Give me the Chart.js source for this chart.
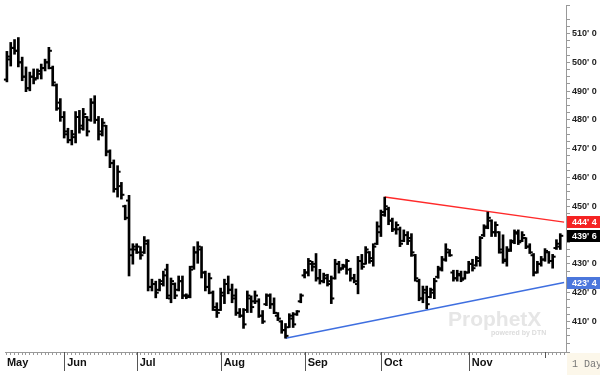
<html>
<head>
<script src="https://cdn.jsdelivr.net/npm/chart.js@4.4.0/dist/chart.umd.min.js"></script>
<style>body{margin:0;background:#fff}</style>
</head>
<body>
<canvas id="ohlcChart" width="600" height="375"></canvas>
<script>
// daily OHLC, cents/bu (May -> early Dec)
const opens = [
  494, 501, 505, 504, 500, 495, 491, 495, 494.5, 496,
  498, 500, 498, 492, 486, 481, 476, 473, 474, 481,
  478, 481, 480, 486, 480, 476, 478, 469, 465, 456,
  457, 450, 452, 433, 435, 434, 434, 437, 422, 423,
  421, 423, 428, 418, 423, 421, 424, 419, 419, 429,
  434, 435, 427, 422, 420, 414, 414, 419, 423, 421,
  419, 413, 412, 414, 418, 417, 417, 412, 416, 419,
  416, 412, 410, 407, 408, 411, 412.5, 417, 426, 427,
  430, 430, 425, 424, 425, 424, 425, 430, 428.5, 429,
  428, 425, 423, 431, 430, 434, 431, 437, 441,
  448, 449, 445, 442, 442, 438, 440, 439, 433, 424,
  418, 420, 418.5, 420, 425.5, 428, 431.5, 434, 427, 425,
  426, 425, 427, 430, 429.5, 431, 440, 443, 445, 441,
  441, 434, 431, 435, 438, 440.5, 438, 439, 436, 433,
  427, 430, 431.5, 434, 431, 435.5, 436
];
const highs = [
  503.8, 506.9, 507.9, 508.6, 501.8, 498.4, 496.6, 497.7, 497.7, 499.4,
  501.1, 505.2, 498.7, 492.5, 487.4, 482.9, 477.1, 476.4, 482.9, 483.3,
  484.0, 481.2, 487.4, 488.4, 481.2, 480.5, 478.1, 469.6, 466.1, 464.1,
  458.3, 450.4, 453.8, 437.0, 437.0, 436.0, 439.5, 438.4, 424.7, 424.0,
  424.7, 427.5, 429.9, 425.1, 423.4, 425.8, 425.8, 419.6, 429.2, 436.0,
  437.7, 436.0, 427.5, 426.8, 420.6, 416.5, 421.6, 424.7, 425.8, 423.0,
  421.3, 414.5, 414.5, 420.6, 418.9, 420.6, 417.9, 413.8, 419.6, 419.6,
  418.2, 413.1, 410.3, 409.3, 412.7, 413.1, 413.8, 419.6, 428.1, 431.9,
  430.9, 433.6, 428.1, 426.8, 426.4, 425.8, 431.6, 430.9, 429.9, 431.6,
  428.5, 426.4, 432.6, 433.3, 436.0, 434.3, 437.0, 444.6, 448.7,
  453.2, 449.7, 445.9, 444.6, 442.8, 441.8, 441.2, 440.5, 433.3, 424.7,
  422.3, 422.3, 421.6, 425.0, 429.2, 432.6, 437.0, 435.0, 427.8, 427.8,
  427.5, 427.5, 430.9, 431.6, 432.6, 439.5, 443.6, 448.0, 445.3, 444.6,
  441.2, 440.1, 436.0, 438.4, 441.8, 441.8, 441.2, 439.1, 437.0, 433.6,
  430.9, 432.6, 435.3, 434.3, 433.3, 438.4, 440.5
];
const lows = [
  493.2, 498.7, 502.8, 498.4, 493.6, 489.8, 490.1, 492.5, 494.2, 494.2,
  497.0, 497.7, 491.8, 483.3, 479.5, 473.7, 472.0, 471.3, 472.0, 475.4,
  476.4, 474.4, 479.5, 478.8, 473.0, 474.4, 467.5, 463.4, 454.9, 453.2,
  452.5, 445.3, 425.8, 429.9, 433.6, 431.6, 433.6, 420.6, 420.6, 418.2,
  420.6, 422.3, 417.9, 416.5, 417.9, 420.6, 417.9, 417.9, 418.2, 428.1,
  430.2, 425.1, 420.6, 419.6, 413.8, 411.4, 413.8, 416.2, 419.6, 416.5,
  412.1, 411.4, 407.6, 413.1, 413.1, 416.2, 411.4, 409.3, 415.5, 414.5,
  412.7, 410.3, 405.9, 404.2, 407.9, 407.9, 412.1, 416.5, 425.1, 425.8,
  427.5, 424.0, 423.0, 423.4, 422.3, 416.2, 424.7, 426.8, 428.1, 426.4,
  424.0, 423.4, 419.6, 428.1, 429.9, 430.2, 429.2, 436.7, 439.5,
  446.5, 443.6, 441.2, 440.3, 436.0, 437.7, 436.7, 432.6, 424.0, 417.2,
  416.5, 414.4, 418.2, 417.9, 425.0, 427.5, 430.9, 432.6, 424.0, 424.0,
  423.8, 424.7, 426.8, 427.5, 429.2, 429.2, 439.5, 442.2, 439.5, 439.5,
  433.7, 430.2, 429.2, 434.3, 437.0, 436.7, 437.7, 435.3, 433.6, 425.8,
  426.8, 429.2, 430.9, 430.2, 428.5, 435.0, 435.0
];
const closes = [
  502, 505, 504, 500, 495, 491, 495, 494, 497, 498,
  500, 504, 493, 484, 481, 475, 473, 475, 481, 477,
  482, 476, 486, 480, 475, 479, 469, 465, 456, 462,
  454, 446, 435, 436, 436, 433, 438, 422, 423, 420,
  424, 426, 419, 424, 419, 424, 419, 418.5, 428, 434,
  436, 427, 422, 425, 415, 413, 420, 423, 421, 418,
  413, 412, 409, 419, 415, 419, 412, 410, 419, 416,
  413, 411, 407, 405, 412, 409, 413.5, 419, 427, 431,
  429, 425, 424, 426, 423, 418, 430, 428, 429.5, 431,
  425, 424, 431, 429, 435, 432, 436, 443, 447,
  450, 445, 442, 443.5, 437, 440, 438, 434, 425, 418,
  421, 416, 421, 424, 428.5, 431.5, 435, 433, 425, 426.5,
  424.5, 427, 430, 428.5, 432, 439, 442.5, 446, 441, 443.5,
  435, 431.5, 434.5, 437.5, 441, 437.5, 440, 436, 434, 427,
  430, 431.5, 434.5, 431, 432.5, 437, 439.75
];

// x axis: month labels at the first session of each month
const monthNames = ['May', 'Jun', 'Jul', 'Aug', 'Sep', 'Oct', 'Nov'];
const monthStarts = [0, 15, 34, 56, 78, 98, 121];
const unlabeledMonthStarts = [141]; // Dec

// trend lines (bar index -> price), last index is the right edge slot
const redLineIdx = [99, 146];
const redLineVal = [453.2, 444.5];
const blueLineIdx = [73, 146];
const blueLineVal = [404.2, 423.5];

// price flags on the right axis
const flagValues = [444.5, 439.75, 423.5];
const flagTexts = ["444' 4", "439' 6", "423' 4"];
const flagColors = ['#f52323', '#000000', '#4b77dc'];

const slotCount = closes.length + 1;
const labels = Array.from({length: slotCount}, (_, i) => String(i));

function sparseLine(idxs, vals) {
  return labels.map((_, i) => {
    const k = idxs.indexOf(i);
    return k < 0 ? null : vals[k];
  });
}

const FONT = "'Liberation Sans', Arial, sans-serif";
Chart.defaults.font.family = FONT;

const decorations = {
  id: 'decorations',
  beforeDatasetsDraw(chart) {
    const ctx = chart.ctx;
    ctx.save();
    ctx.fillStyle = '#e6e6e6';
    ctx.font = 'bold 21px ' + FONT;
    ctx.textBaseline = 'alphabetic';
    ctx.fillText('ProphetX', 448, 326);
    ctx.font = 'bold 7px ' + FONT;
    ctx.fillStyle = '#dcdcdc';
    ctx.fillText('powered by DTN', 491, 335);
    ctx.restore();
  },
  afterDraw(chart) {
    const {ctx, chartArea, scales: {x, y}} = chart;
    ctx.save();
    // month separators
    ctx.strokeStyle = '#555';
    ctx.lineWidth = 1;
    monthStarts.forEach((idx) => {
      if (idx === 0) return;
      const px = Math.round(x.getPixelForValue(idx)) + 0.5;
      ctx.beginPath();
      ctx.moveTo(px, chartArea.bottom);
      ctx.lineTo(px, chartArea.bottom + 19);
      ctx.stroke();
    });
    unlabeledMonthStarts.forEach((idx) => {
      const px = Math.round(x.getPixelForValue(idx)) + 0.5;
      ctx.beginPath();
      ctx.moveTo(px, chartArea.bottom);
      ctx.lineTo(px, chartArea.bottom + 6);
      ctx.stroke();
    });
    // price flags
    ctx.font = 'bold 9px ' + FONT;
    ctx.textBaseline = 'middle';
    flagValues.forEach((v, i) => {
      const py = y.getPixelForValue(v);
      ctx.fillStyle = flagColors[i];
      ctx.fillRect(chartArea.right + 1, Math.round(py) - 6, 34, 12);
      ctx.fillStyle = '#fff';
      ctx.fillText(flagTexts[i], chartArea.right + 6, py + 0.5);
    });
    // interval box
    ctx.fillStyle = '#fcf7ea';
    ctx.fillRect(chartArea.right + 1, chartArea.bottom + 1, 40, 30);
    ctx.fillStyle = '#777';
    ctx.font = "10px 'Liberation Mono', monospace";
    ctx.fillText('1 Day', chartArea.right + 6, chartArea.bottom + 12);
    ctx.restore();
  }
};

const ctxChart = document.getElementById('ohlcChart');
new Chart(ctxChart, {
  type: 'bar',
  data: {
    labels: labels,
    datasets: [
      {
        type: 'bar',
        data: highs.map((h, i) => [lows[i], h]),
        backgroundColor: '#000',
        barThickness: 2,
        order: 0
      },
      {
        type: 'line',
        data: opens,
        showLine: false,
        pointStyle: 'dash',
        pointRotation: 180,
        pointRadius: 3,
        pointHoverRadius: 3,
        pointBorderWidth: 2,
        pointBorderColor: '#000',
        borderColor: '#000',
        order: 1
      },
      {
        type: 'line',
        data: closes,
        showLine: false,
        pointStyle: 'dash',
        pointRotation: 0,
        pointRadius: 3,
        pointHoverRadius: 3,
        pointBorderWidth: 2,
        pointBorderColor: '#000',
        borderColor: '#000',
        order: 2
      },
      {
        type: 'line',
        data: sparseLine(redLineIdx, redLineVal),
        spanGaps: true,
        borderColor: '#ff2a2a',
        borderWidth: 1.5,
        pointRadius: 0,
        order: 3
      },
      {
        type: 'line',
        data: sparseLine(blueLineIdx, blueLineVal),
        spanGaps: true,
        borderColor: '#3f6fe0',
        borderWidth: 1.5,
        pointRadius: 0,
        order: 4
      }
    ]
  },
  options: {
    responsive: false,
    animation: false,
    events: [],
    layout: {padding: 0},
    plugins: {
      legend: {display: false},
      tooltip: {enabled: false},
      title: {display: false}
    },
    scales: {
      x: {
        type: 'category',
        offset: true,
        grid: {
          offset: false,
          drawOnChartArea: false,
          tickLength: 3,
          tickColor: '#999'
        },
        border: {color: '#999'},
        ticks: {
          autoSkip: false,
          maxRotation: 0,
          minRotation: 0,
          align: 'start',
          padding: 1,
          color: '#111',
          font: {size: 11, weight: 'bold'},
          callback: function(value, index) {
            const k = monthStarts.indexOf(index);
            if (k < 0) return '';
            return (index === 0 ? '' : ' ') + monthNames[k];
          }
        },
        afterFit: function(scale) {
          scale.height = 23;
          scale.paddingLeft = 0;
          scale.paddingRight = 0;
        }
      },
      y: {
        position: 'right',
        min: 399.4,
        max: 519.9,
        grid: {
          drawOnChartArea: false,
          tickLength: 4,
          tickColor: '#999'
        },
        border: {color: '#999'},
        ticks: {
          stepSize: 2.5,
          autoSkip: false,
          padding: 2,
          color: '#222',
          font: {size: 9, weight: 'bold'},
          callback: function(v) {
            if (v < 401 || v > 518) return '';
            return Math.abs(v % 10) < 0.01 ? v + "' 0" : '';
          }
        },
        afterFit: function(scale) {
          scale.width = 34;
          scale.paddingTop = 0;
          scale.paddingBottom = 0;
        }
      }
    }
  },
  plugins: [decorations]
});
</script>
</body>
</html>
